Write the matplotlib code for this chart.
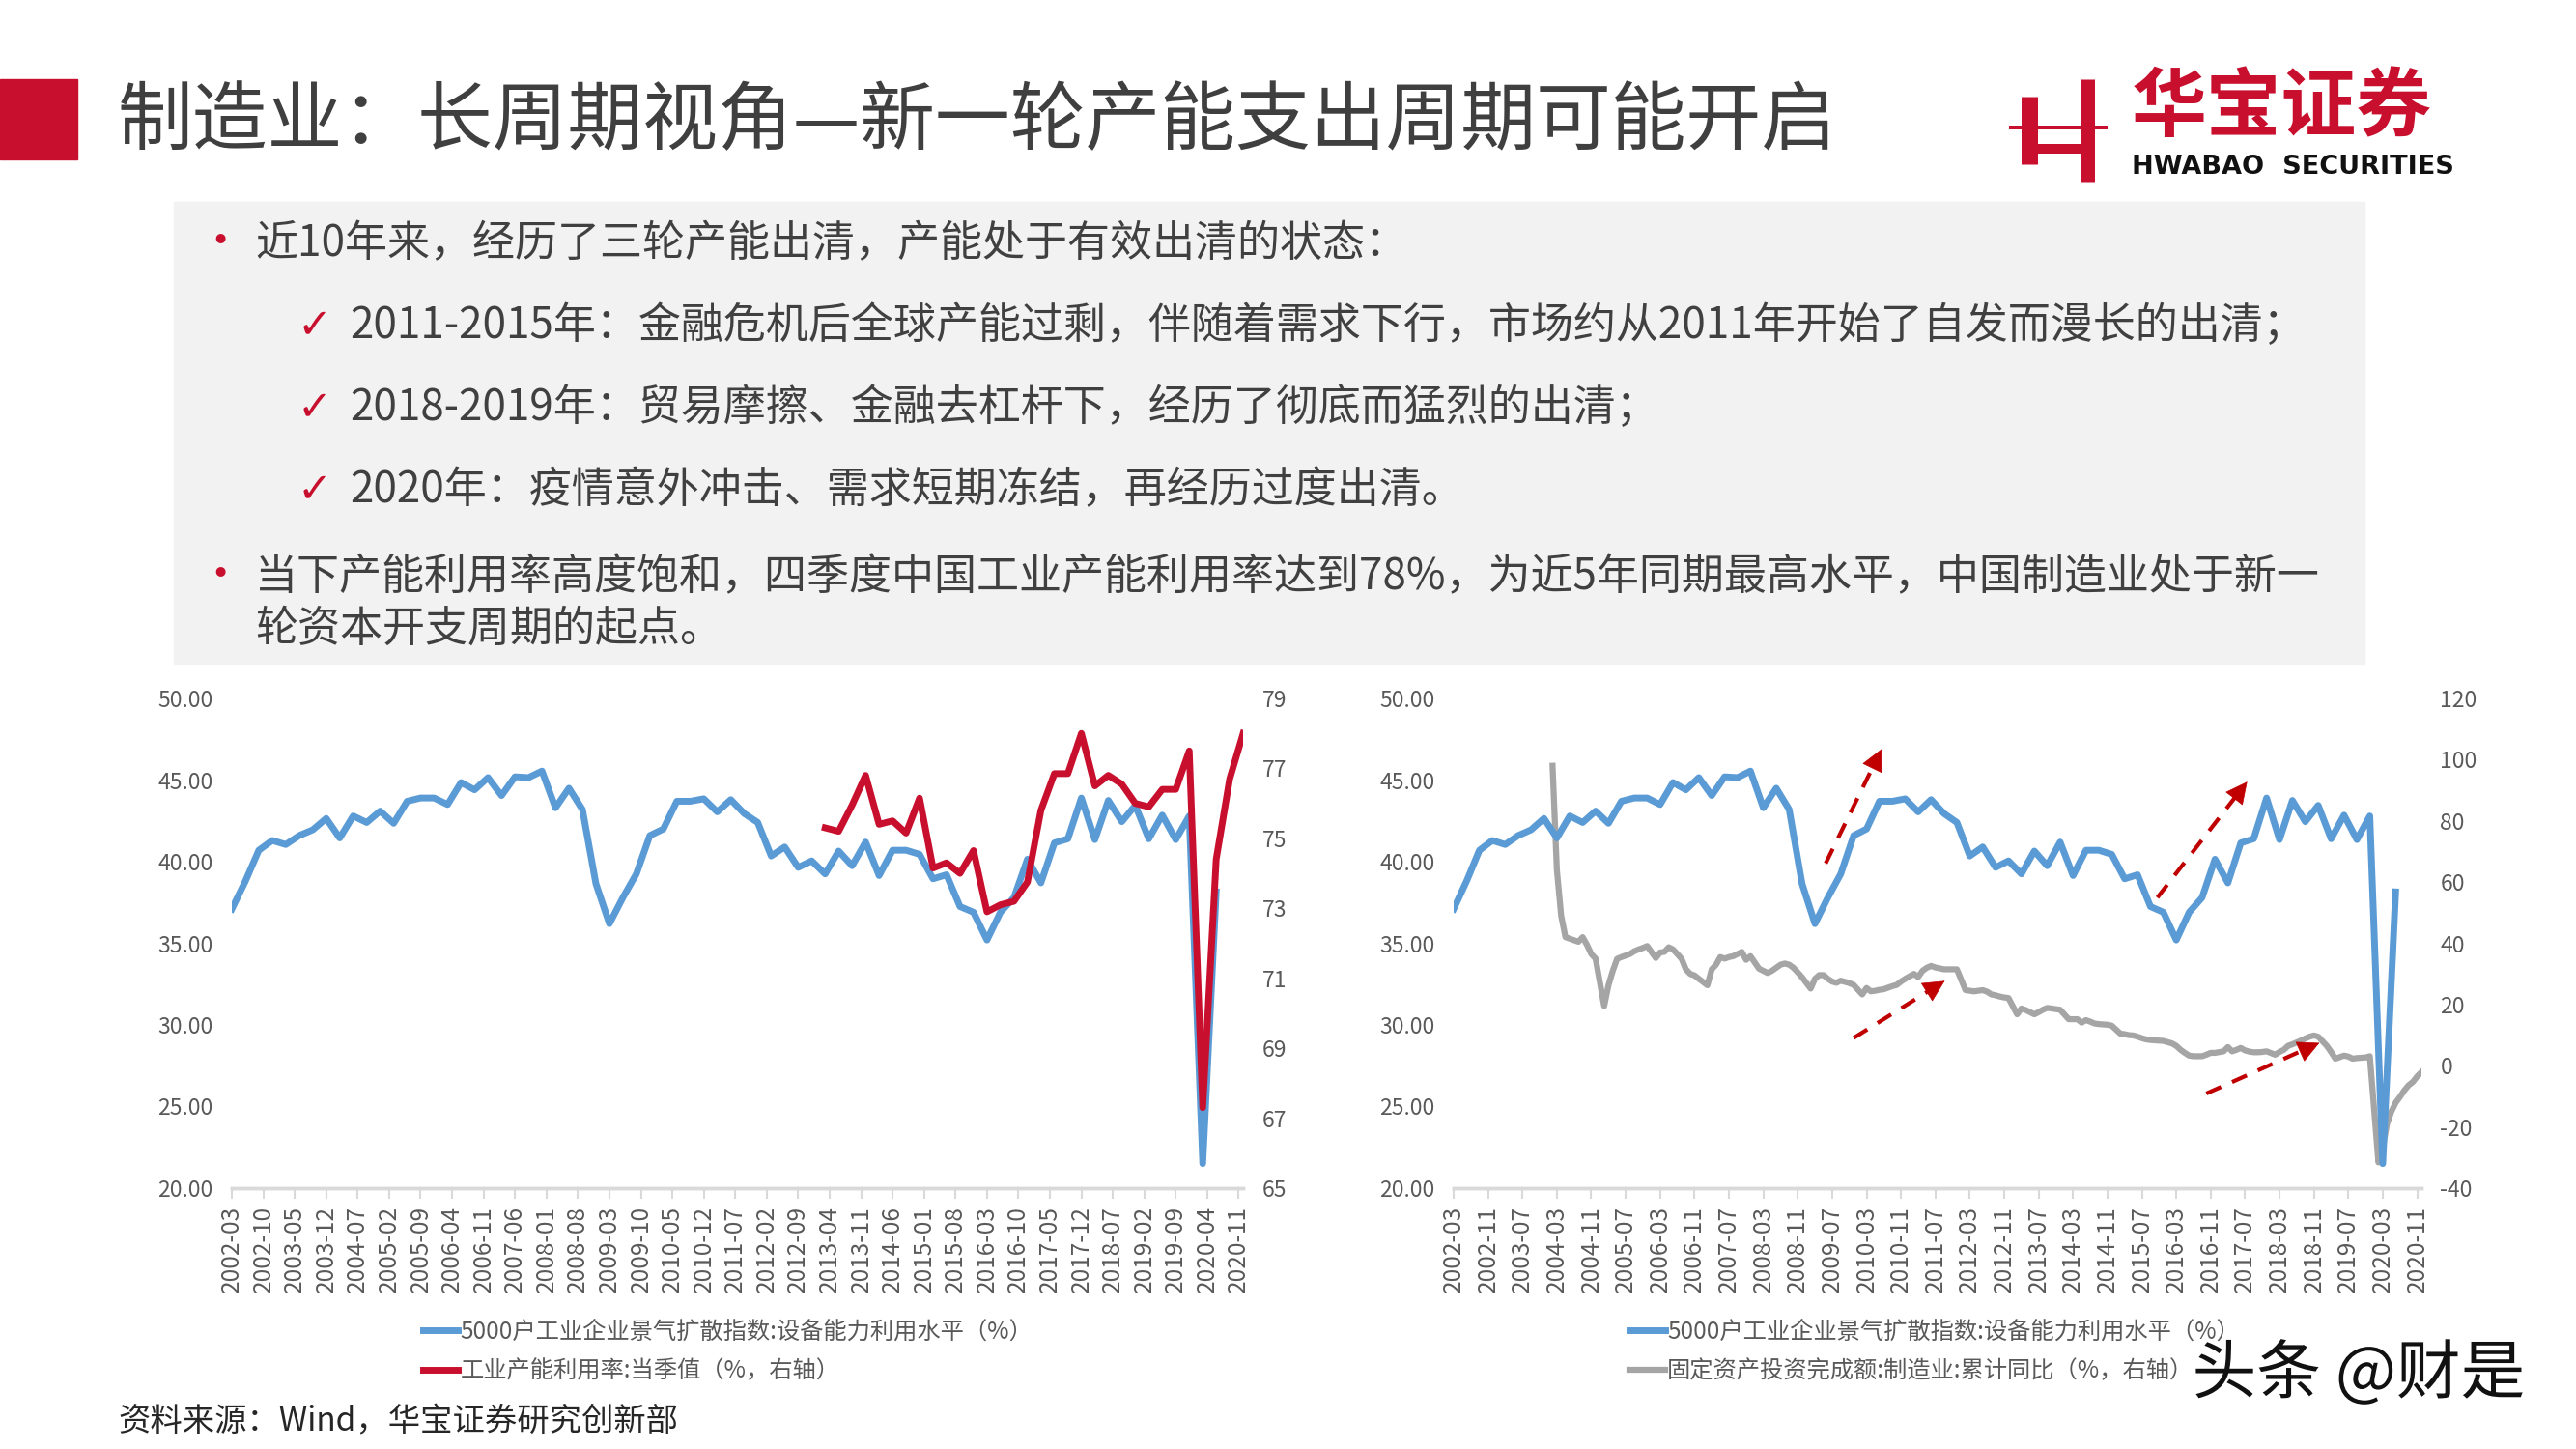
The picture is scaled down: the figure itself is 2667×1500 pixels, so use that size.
# 制造业产能周期 双图复刻
import numpy as np
import pandas as pd
import matplotlib.pyplot as plt
from matplotlib.patches import Rectangle
from matplotlib.lines import Line2D
import matplotlib.patheffects as pe

plt.rcParams['font.family'] = ['Noto Sans CJK SC', 'DejaVu Sans']

# ---------------- 数据 ----------------
# 月度类别轴 2002-03 ~ 2020-12
months = pd.period_range('2002-03', '2020-12', freq='M')
month_labels = [p.strftime('%Y-%m') for p in months]

# 5000户工业企业景气扩散指数:设备能力利用水平, 季度 2002Q1 ~ 2020Q2
blue_vals = [37.1, 38.8, 40.7, 41.3,
             41.05, 41.6, 41.95, 42.65,
             41.45, 42.8, 42.4, 43.1,
             42.35, 43.7, 43.9, 43.9,
             43.5, 44.85, 44.4, 45.15,
             44.05, 45.2, 45.15, 45.55,
             43.3, 44.5, 43.2, 38.65,
             36.2, 37.8, 39.25, 41.6,
             42.0, 43.7, 43.7, 43.85,
             43.05, 43.8, 42.95, 42.4,
             40.35, 40.9, 39.65, 40.05,
             39.25, 40.65, 39.75, 41.2,
             39.15, 40.7, 40.7, 40.45,
             38.95, 39.2, 37.25, 36.9,
             35.2, 36.9, 37.8, 40.15,
             38.7, 41.15, 41.4, 43.9,
             41.35, 43.75, 42.45, 43.45,
             41.4, 42.85, 41.35, 42.8,
             21.5, 38.15]
blue_start = '2002-03'

# 工业产能利用率:当季值, 2013Q1 ~ 2020Q4
red_vals = [75.3, 75.2, 75.95, 76.8,
            75.4, 75.5, 75.15, 76.15,
            74.15, 74.3, 74.0, 74.65,
            72.9, 73.1, 73.2, 73.75,
            75.8, 76.85, 76.85, 78.0,
            76.5, 76.8, 76.55, 76.0,
            75.9, 76.4, 76.4, 77.5,
            67.3, 74.4, 76.7, 78.0]
red_start = '2013-03'

# 固定资产投资完成额:制造业:累计同比, 月度 2004-02 ~ 2020-12 (1月无数据)
gray_vals = [
    98.0, 64.0, 49.0, 42.0, 41.5, 41.0, 40.5, 42.0, 39.5, 36.5, 35.0,            # 2004
    None, 19.5, 26.3, 31.0, 34.9, 35.5, 36.0, 36.5, 37.4, 38.0, 38.5, 39.1,      # 2005
    None, 35.2, 37.0, 37.2, 38.7, 38.0, 36.5, 34.9, 31.5, 30.0, 29.5, 28.4,      # 2006
    None, 26.3, 31.5, 33.0, 35.5, 35.0, 35.5, 35.8, 36.5, 37.2, 34.6, 35.8,      # 2007
    None, 31.7, 31.0, 30.3, 31.0, 32.0, 33.0, 33.4, 33.0, 32.0, 30.5, 28.9,      # 2008
    None, 25.2, 28.4, 29.6, 29.6, 28.4, 27.5, 27.1, 27.8, 27.4, 27.0, 26.4,      # 2009
    None, 23.3, 25.4, 24.3, 24.5, 24.8, 25.0, 25.5, 26.0, 26.4, 27.5, 28.4,      # 2010
    None, 30.0, 29.0, 31.0, 32.0, 32.6, 32.1, 31.8, 31.5, 31.5, 31.5, 31.5,      # 2011
    None, 24.7, 24.5, 24.3, 24.5, 24.7, 24.2, 23.3, 23.0, 22.6, 22.3, 22.1,      # 2012
    None, 16.8, 18.7, 18.2, 17.5, 16.8, 17.5, 18.3, 18.9, 18.7, 18.5, 18.3,      # 2013
    None, 15.2, 15.2, 15.2, 14.1, 14.9, 14.4, 13.8, 13.6, 13.5, 13.4, 13.1,      # 2014
    None, 10.5, 10.3, 10.0, 9.9, 9.5, 9.0, 8.6, 8.4, 8.3, 8.2, 8.1,              # 2015
    None, 7.3, 6.5, 5.2, 4.2, 3.3, 3.1, 3.1, 3.1, 3.6, 4.2, 4.2,                 # 2016
    None, 4.7, 6.1, 4.7, 5.2, 5.8, 5.0, 4.6, 4.4, 4.4, 4.5, 4.7,                 # 2017
    None, 3.6, 4.5, 5.2, 6.5, 7.0, 7.6, 8.2, 8.9, 9.5, 9.9, 9.5,                 # 2018
    None, 6.5, 4.5, 2.3, 2.8, 3.3, 3.0, 2.3, 2.5, 2.6, 2.7, 3.1,                 # 2019
    None, -31.6, -26.9, -19.0, -15.0, -12.1, -10.2, -8.1, -6.4, -5.3, -3.5, -2.1,  # 2020
]
gray_start = '2004-02'

blue_label = '5000户工业企业景气扩散指数:设备能力利用水平（%）'
red_label = '工业产能利用率:当季值（%，右轴）'
gray_label = '固定资产投资完成额:制造业:累计同比（%，右轴）'

title = '制造业：长周期视角—新一轮产能支出周期可能开启'
bullet1 = '近10年来，经历了三轮产能出清，产能处于有效出清的状态：'
checks = ['2011-2015年：金融危机后全球产能过剩，伴随着需求下行，市场约从2011年开始了自发而漫长的出清；',
          '2018-2019年：贸易摩擦、金融去杠杆下，经历了彻底而猛烈的出清；',
          '2020年：疫情意外冲击、需求短期冻结，再经历过度出清。']
bullet2 = ['当下产能利用率高度饱和，四季度中国工业产能利用率达到78%，为近5年同期最高水平，中国制造业处于新一',
           '轮资本开支周期的起点。']
source = '资料来源：Wind，华宝证券研究创新部'

# ---------------- 样式 ----------------
BLUE = '#5B9BD5'
RED = '#C8102E'
GRAY = '#A5A5A5'
TXT = '#404040'
TICK = '#595959'
AXIS = '#D9D9D9'


def pos(start, n, step):
    i0 = month_labels.index(start)
    return i0 + np.arange(n) * step


def style_axes(ax, axr, tick_step, yl, yr, yr_fmt):
    ax.set_xlim(0, len(months) - 1)
    ax.set_ylim(*yl)
    ax.set_yticks(np.arange(yl[0], yl[1] + 0.1, 5))
    ax.set_yticklabels(['%.2f' % v for v in np.arange(yl[0], yl[1] + 0.1, 5)])
    axr.set_ylim(*yr[:2])
    axr.set_yticks(np.arange(yr[0], yr[1] + 0.1, yr[2]))
    axr.set_yticklabels([yr_fmt % v for v in np.arange(yr[0], yr[1] + 0.1, yr[2])])
    ticks = list(range(0, len(months), tick_step))
    ax.set_xticks(ticks)
    ax.set_xticklabels([month_labels[i] for i in ticks], rotation=90,
                       fontsize=17.5, color=TICK)
    for a in (ax, axr):
        for s in ('top', 'left', 'right'):
            a.spines[s].set_visible(False)
        a.spines['bottom'].set_color(AXIS)
        a.spines['bottom'].set_linewidth(2.5)
    ax.tick_params(axis='x', length=8, width=1.5, color=AXIS, pad=5)
    ax.tick_params(axis='y', length=0, labelsize=16.5, labelcolor=TICK, pad=14)
    axr.tick_params(axis='y', length=0, labelsize=16.5, labelcolor=TICK, pad=14)


fig = plt.figure(figsize=(26.67, 15), dpi=100)

# 标题栏
fig.patches.append(Rectangle((0, 0.89), 0.030, 0.0553, transform=fig.transFigure,
                             color=RED, zorder=1))
fig.text(0.0458, 0.915, title, fontsize=56, fontweight='medium', color='#3F3F3F',
         va='center', ha='left')

# logo
logo_lines = [((2101, 2101), (100, 170), 17), ((2161, 2161), (82, 188), 15),
              ((2080, 2182), (132, 132), 4), ((2093, 2157), (154, 154), 10)]
for xs, ys, w in logo_lines:
    fig.add_artist(Line2D([x / 2667 for x in xs], [1 - y / 1500 for y in ys],
                          transform=fig.transFigure, color=RED, lw=w * 0.72,
                          solid_capstyle='butt'))
fig.text(0.8275, 0.925, '华宝证券', fontsize=56, fontweight='heavy', color=RED,
         va='center', ha='left')
fig.text(0.8275, 0.885, 'HWABAO  SECURITIES', fontsize=19.5, fontweight='bold',
         color='#111111', va='center', ha='left', family='DejaVu Sans')

# 文本框
fig.patches.append(Rectangle((0.0675, 0.542), 0.8505, 0.3187, transform=fig.transFigure,
                             color='#F2F2F2', zorder=0))
fig.text(0.0765, 0.832, '•', fontsize=34, color=RED, va='center')
fig.text(0.099, 0.832, bullet1, fontsize=31.7, color=TXT, va='center')
for k, line in enumerate(checks):
    y = 0.7753 - k * 0.0567
    fig.text(0.1155, y, '✓', fontsize=31, color=RED, va='center', family='DejaVu Sans')
    fig.text(0.1359, y, line, fontsize=31.7, color=TXT, va='center')
fig.text(0.0765, 0.602, '•', fontsize=34, color=RED, va='center')
fig.text(0.099, 0.602, bullet2[0], fontsize=31.7, color=TXT, va='center')
fig.text(0.099, 0.566, bullet2[1], fontsize=31.7, color=TXT, va='center')

# ---------------- 左图 ----------------
ax1 = fig.add_axes([0.0900, 0.18, 0.3926, 0.338])
ax1r = ax1.twinx()
l_blue, = ax1.plot(pos(blue_start, len(blue_vals), 3), blue_vals, color=BLUE, lw=5,
                   solid_joinstyle='round')
l_red, = ax1r.plot(pos(red_start, len(red_vals), 3), red_vals, color=RED, lw=5,
                   solid_joinstyle='round')
style_axes(ax1, ax1r, 7, (20, 50), (65, 79, 2), '%d')

# ---------------- 右图 ----------------
ax2 = fig.add_axes([0.5643, 0.18, 0.3757, 0.338])
ax2r = ax2.twinx()
ax2.plot(pos(blue_start, len(blue_vals), 3), blue_vals, color=BLUE, lw=5,
         solid_joinstyle='round')
gx = pos(gray_start, len(gray_vals), 1)
gy = np.array([np.nan if v is None else v for v in gray_vals])
ok = ~np.isnan(gy)
l_gray, = ax2r.plot(gx[ok], gy[ok], color=GRAY, lw=4.5, solid_joinstyle='round')
style_axes(ax2, ax2r, 8, (20, 50), (-40, 120, 20), '%d')

# 红色虚线箭头 (左轴坐标)
arrows = [((86.5, 39.9), (99.5, 46.9)), ((93.0, 29.2), (114.2, 32.7)),
          ((163.6, 37.8), (184.5, 44.9)), ((175.0, 25.8), (201.3, 28.9))]
for (x0, y0), (x1, y1) in arrows:
    xm, ym = x0 + (x1 - x0) * 0.9, y0 + (y1 - y0) * 0.9
    ax2.plot([x0, xm], [y0, ym], color='#C00000', lw=3, ls=(0, (4, 3)), zorder=5)
    ax2.annotate('', xy=(x1, y1), xytext=(xm, ym),
                 arrowprops=dict(arrowstyle='-|>', color='#C00000', lw=0.5,
                                 mutation_scale=38, shrinkA=0, shrinkB=0), zorder=5)
ax2.set_zorder(ax2r.get_zorder() + 1)
ax2.patch.set_visible(False)

# ---------------- 图例 ----------------
fig.legend([l_blue, l_red], [blue_label, red_label], loc='upper left',
           bbox_to_anchor=(0.156, 0.104), frameon=False, fontsize=17.5,
           handlelength=1.5, handletextpad=0.1, labelspacing=0.6, labelcolor=TICK)
fig.legend([Line2D([], [], color=BLUE, lw=5), l_gray], [blue_label, gray_label],
           loc='upper left', bbox_to_anchor=(0.6245, 0.104), frameon=False, fontsize=17.5,
           handlelength=1.5, handletextpad=0.1, labelspacing=0.6, labelcolor=TICK)

fig.text(0.0458, 0.019, source, fontsize=24, color='#262626', va='center')
fig.text(0.851, 0.051, '头条 @财是', fontsize=48, color='#111111', va='center',
         path_effects=[pe.withStroke(linewidth=6, foreground='white')])

fig.savefig('out.png', dpi=100, facecolor='white')
